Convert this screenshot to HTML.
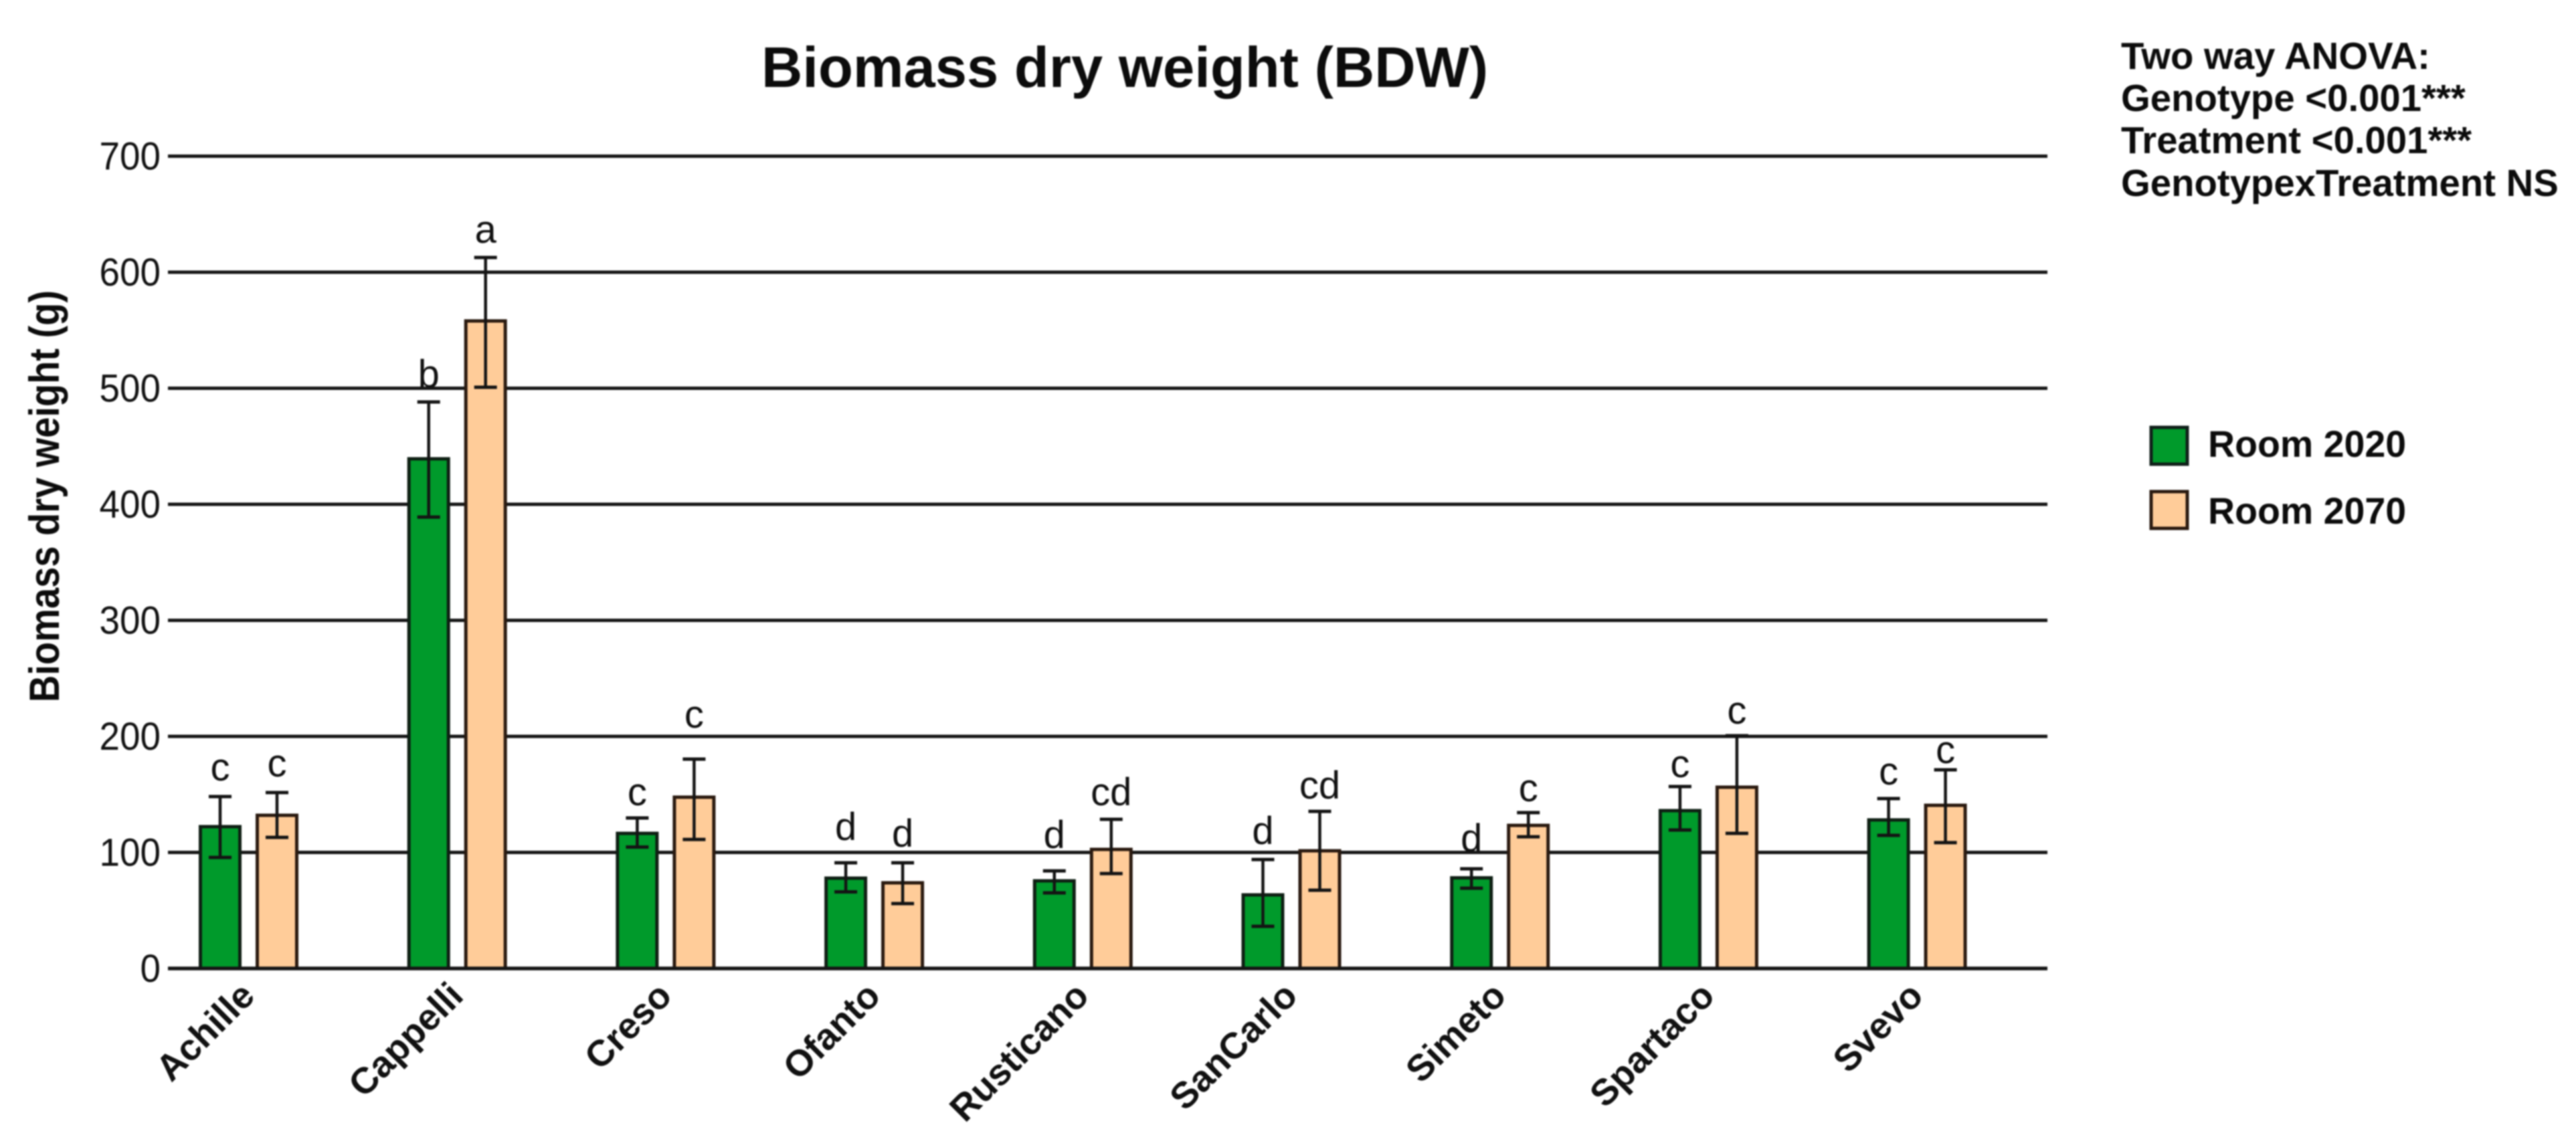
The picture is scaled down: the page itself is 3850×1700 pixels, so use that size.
<!DOCTYPE html>
<html lang="en">
<head>
<meta charset="utf-8">
<title>Biomass dry weight (BDW)</title>
<style>
  html, body { margin: 0; padding: 0; background: #fff; }
  svg { display: block; font-family: "Liberation Sans", Arial, sans-serif; filter: blur(1px); }
</style>
</head>
<body>
<svg id="chart" xmlns="http://www.w3.org/2000/svg" width="3850" height="1700" viewBox="0 0 3850 1700">
  <rect x="0" y="0" width="3850" height="1700" fill="#fff"/>
  <text x="1138" y="130" font-size="85" font-weight="700" fill="#0c0c0c">Biomass dry weight (BDW)</text>
  <text transform="translate(88 1050) rotate(-90)" font-size="63" font-weight="700" fill="#0c0c0c" textLength="616" lengthAdjust="spacingAndGlyphs">Biomass dry weight (g)</text>
  <g id="grid"></g>
  <g id="y-ticks"></g>
  <g id="bars"></g>
  <g id="whiskers"></g>
  <g id="letters"></g>
  <g id="x-ticks"></g>
  <g font-size="56.3" font-weight="700" fill="#0c0c0c">
    <text x="3170" y="103">Two way ANOVA:</text>
    <text x="3170" y="166">Genotype &lt;0.001***</text>
    <text x="3170" y="229">Treatment &lt;0.001***</text>
    <text x="3170" y="293">GenotypexTreatment NS</text>
  </g>
  <g>
    <g>
      <rect x="3215" y="639" width="54" height="55" fill="#009a2b" stroke="#10201a" stroke-width="5"/>
      <text x="3300" y="683" font-size="55.5" font-weight="700" fill="#0c0c0c">Room 2020</text>
    </g>
    <g>
      <rect x="3215" y="735" width="54" height="55" fill="#ffcc99" stroke="#2a1a10" stroke-width="5"/>
      <text x="3300" y="783" font-size="55.5" font-weight="700" fill="#0c0c0c">Room 2070</text>
    </g>
  </g>
</svg>
<script>
const categories = ['Achille', 'Cappelli', 'Creso', 'Ofanto', 'Rusticano', 'SanCarlo', 'Simeto', 'Spartaco', 'Svevo'];
const tickValues = [0, 100, 200, 300, 400, 500, 600, 700];
const tickLabels = ['0', '100', '200', '300', '400', '500', '600', '700'];

const room2020 = [122.2, 439.2, 116.4, 77.8, 75.5, 63.4, 78.1, 136, 128];
const room2020Upper = [148.1, 488.2, 129.7, 91.1, 84.1, 93.9, 85.9, 156.8, 146.4];
const room2020Lower = [95.7, 389, 104.6, 66, 65.1, 36.3, 69.2, 119.3, 114.7];
const room2020Letters = ['c', 'b', 'c', 'd', 'd', 'd', 'd', 'c', 'c'];
const room2020LetterGap = [13.8, 12.7, 11, 19.6, 19.6, 13.3, 15, 8.1, 12.1];

const room2070 = [132, 558, 147.6, 73.8, 102.6, 101.4, 123.3, 156.2, 140.6];
const room2070Upper = [151.6, 612.7, 180.4, 91.1, 128.5, 135.4, 134.3, 200.6, 171.2];
const room2070Lower = [113, 500.9, 111.2, 55.9, 81.8, 67.4, 113.5, 116.4, 108.4];
const room2070Letters = ['c', 'a', 'c', 'd', 'cd', 'cd', 'c', 'c', 'c'];
const room2070LetterGap = [13.8, 12.7, 27.1, 13.8, 12.1, 11, 9.8, 10.4, 5.8];

const SVG_NS = 'http://www.w3.org/2000/svg';
const plot = { left: 251, right: 3060, bottom: 1448, pxPerGram: 1.735, firstCenter: 371.5, step: 311.7 };
const xCenter = i => plot.firstCenter + plot.step * i;
const yScale = v => plot.bottom - plot.pxPerGram * v;

function make(tag, attrs, parent, text) {
  const node = document.createElementNS(SVG_NS, tag);
  for (const k in attrs) node.setAttribute(k, attrs[k]);
  if (text !== undefined) node.textContent = text;
  parent.appendChild(node);
  return node;
}

const gridGroup = document.getElementById('grid');
const yTickGroup = document.getElementById('y-ticks');
const barGroup = document.getElementById('bars');
const whiskerGroup = document.getElementById('whiskers');
const letterGroup = document.getElementById('letters');
const xTickGroup = document.getElementById('x-ticks');

tickValues.forEach((v, i) => {
  const label = make('text', { x: 240, y: yScale(v) + 20, 'font-size': 58, 'text-anchor': 'end', fill: '#111', textLength: tickLabels[i].length * 30.5, lengthAdjust: 'spacingAndGlyphs' }, yTickGroup, tickLabels[i]);
  
  
  if (v === 0) return;
  const line = make('line', { x1: plot.left, x2: plot.right, y1: yScale(v), y2: yScale(v), stroke: '#161616', 'stroke-width': 5 }, gridGroup);
  
  
});

const series = [
  { key: 'room-2020', vals: room2020, up: room2020Upper, lo: room2020Lower, letters: room2020Letters, gap: room2020LetterGap, dx: -42.5, fill: '#009a2b', stroke: '#0f1f14' },
  { key: 'room-2070', vals: room2070, up: room2070Upper, lo: room2070Lower, letters: room2070Letters, gap: room2070LetterGap, dx: 42.5, fill: '#ffcc99', stroke: '#2a1a10' }
];
const barWidth = 59;
const capWidth = 34;

series.forEach(s => {
  categories.forEach((name, i) => {
    const cx = xCenter(i) + s.dx;
    const top = yScale(s.vals[i]);
    const bar = make('rect', { x: cx - barWidth / 2, y: top, width: barWidth, height: yScale(0) - top, fill: s.fill, stroke: s.stroke, 'stroke-width': 5 }, barGroup);
    
    

    const yUp = yScale(s.up[i]);
    const yLo = yScale(s.lo[i]);
    const stem = make('line', { x1: cx, x2: cx, y1: yUp, y2: yLo, stroke: '#141414', 'stroke-width': 4.5 }, whiskerGroup);
    
    
    const capTop = make('line', { x1: cx - capWidth / 2, x2: cx + capWidth / 2, y1: yUp, y2: yUp, stroke: '#141414', 'stroke-width': 5 }, whiskerGroup);
    
    
    const capLow = make('line', { x1: cx - capWidth / 2, x2: cx + capWidth / 2, y1: yLo, y2: yLo, stroke: '#141414', 'stroke-width': 5 }, whiskerGroup);
    
    

    const letter = make('text', { x: cx, y: yScale(s.up[i] + s.gap[i]), 'font-size': 58, 'text-anchor': 'middle', fill: '#111' }, letterGroup, s.letters[i]);
    
    
  });
});

const zeroLine = make('line', { x1: plot.left, x2: plot.right, y1: yScale(0), y2: yScale(0), stroke: '#161616', 'stroke-width': 5.5 }, whiskerGroup);



categories.forEach((name, i) => {
  const tx = xCenter(i) + 12;
  const label = make('text', { transform: 'translate(' + tx + ' 1492) rotate(-45)', 'font-size': 55, 'font-weight': 700, 'text-anchor': 'end', fill: '#111' }, xTickGroup, name);
  
  
});
</script>
</body>
</html>
